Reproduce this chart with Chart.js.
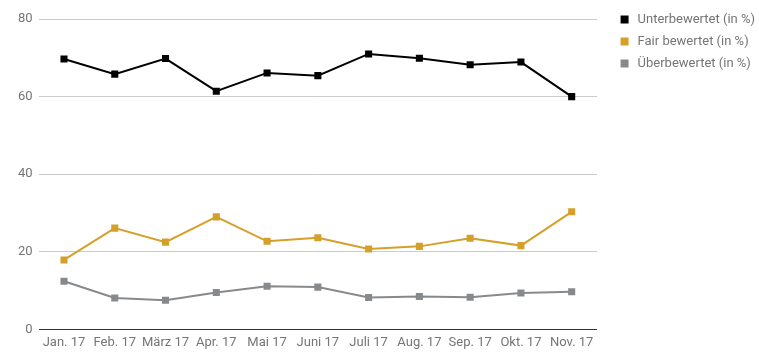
<!DOCTYPE html>
<html>
<head>
<meta charset="utf-8">
<script src="https://cdn.jsdelivr.net/npm/chart.js@4/dist/chart.umd.min.js"></script>
<style>
  html, body { margin: 0; padding: 0; background: #fff; }
  #wrap { width: 759px; height: 361px; }
</style>
</head>
<body>
<div id="wrap"><canvas id="chart"></canvas></div>
<script>
// ---- DATA ----
const months = ["Jan. 17", "Feb. 17", "März 17", "Apr. 17", "Mai 17", "Juni 17",
                "Juli 17", "Aug. 17", "Sep. 17", "Okt. 17", "Nov. 17"];
const unterbewertet = [69.7, 65.8, 69.8, 61.4, 66.1, 65.4, 71.0, 69.9, 68.2, 68.9, 60.0];
const fairBewertet  = [17.9, 26.1, 22.5, 29.0, 22.7, 23.6, 20.7, 21.4, 23.5, 21.6, 30.3];
const ueberbewertet = [12.4, 8.1, 7.5, 9.5, 11.1, 10.9, 8.2, 8.5, 8.3, 9.4, 9.7];
const yTicks = [0, 20, 40, 60, 80];

// ---- STYLE ----
const textGray = "#757575";
const font = { family: "Roboto", size: 13 };

function series(label, data, color) {
  return {
    label: label,
    data: data,
    borderColor: color,
    backgroundColor: color,
    borderWidth: 2,
    pointStyle: "rect",
    pointRadius: 5,
    pointBorderWidth: 0,
    tension: 0
  };
}

// move the legend away from the plot area and up to the top line
const legendShift = {
  id: "legendShift",
  afterLayout(chart) {
    const lg = chart.legend;
    lg.left += 12;
    lg.right += 12;
    lg.top -= 15;
    lg.bottom -= 15;
  }
};

new Chart(document.getElementById("chart"), {
  type: "line",
  data: {
    labels: months,
    datasets: [
      series("Unterbewertet (in %)", unterbewertet, "#000000"),
      series("Fair bewertet (in %)", fairBewertet, "#d4a02a"),
      series("Überbewertet (in %)", ueberbewertet, "#878a8d")
    ]
  },
  plugins: [legendShift],
  options: {
    responsive: true,
    maintainAspectRatio: false,
    animation: false,
    layout: { padding: { left: 12, right: 6, top: 19, bottom: 4 } },
    plugins: {
      tooltip: { enabled: false },
      legend: {
        position: "right",
        align: "start",
        labels: {
          usePointStyle: true,
          boxWidth: 13,
          boxHeight: 8,
          padding: 9,
          color: textGray,
          font: font
        }
      }
    },
    scales: {
      x: {
        offset: true,
        grid: { display: false, drawTicks: false },
        border: { display: false },
        ticks: { color: textGray, font: font, padding: 6, maxRotation: 0, autoSkip: false }
      },
      y: {
        min: 0,
        max: 80,
        afterBuildTicks(scale) {
          scale.ticks = yTicks.map(v => ({ value: v }));
        },
        grid: {
          drawTicks: false,
          color: ctx => (ctx.tick && ctx.tick.value === 0) ? "#333333" : "#cccccc",
          lineWidth: 1
        },
        border: { display: false },
        ticks: { color: textGray, font: font, padding: 6 }
      }
    }
  }
});
</script>
</body>
</html>
